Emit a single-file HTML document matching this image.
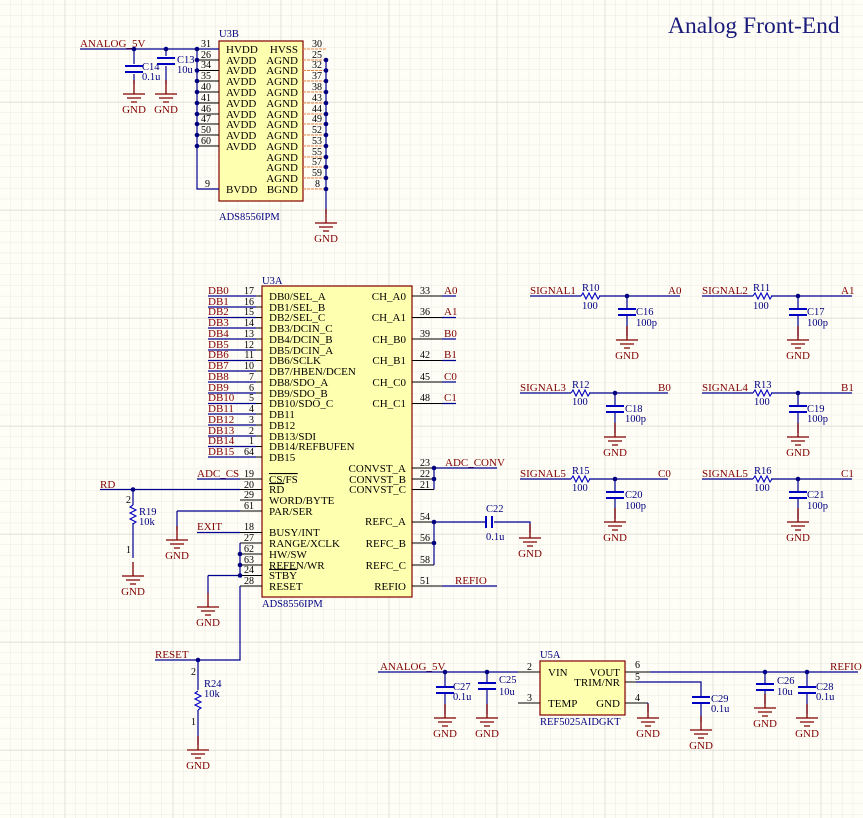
<!DOCTYPE html>
<html><head><meta charset="utf-8"><style>
html,body{margin:0;padding:0;background:#fffef6}
svg{display:block;font-family:"Liberation Serif",serif}
.w{stroke:#000090;stroke-width:1.2;fill:none}
.k{stroke:#000;stroke-width:1;fill:none}
.r{fill:#800000;font-size:11px}
.b{fill:#000080;font-size:10.5px}
.t{fill:#000;font-size:11px}
.n{fill:#000;font-size:10px}
.g{stroke:#800000;stroke-width:1.3;fill:none}
</style></head><body>
<svg width="863" height="818" viewBox="0 0 863 818" xmlns="http://www.w3.org/2000/svg">
<defs>
<pattern id="fg" x="0" y="102" width="10.8" height="10.8" patternUnits="userSpaceOnUse"><path d="M10.8 0V10.8H0" stroke="#ebebe3" stroke-width="1" fill="none"/></pattern>
<pattern id="mg" x="64.8" y="102" width="108" height="108" patternUnits="userSpaceOnUse"><path d="M0 0V108M0 0H108" stroke="#d6d6ce" stroke-width="1" fill="none"/></pattern>
<symbol id="gnd" overflow="visible"><path d="M0 -14V0M-11 0h22M-7 4h14M-3 8h6" stroke="#800000" stroke-width="1.3" fill="none"/><text x="0" y="19" text-anchor="middle" class="r">GND</text></symbol>
<symbol id="cap" overflow="visible"><path d="M-9 -3h18M-9 3h18" stroke="#0000c0" stroke-width="2"/></symbol>
<symbol id="res" overflow="visible"><path d="M-9 0l2 -3l3 6l3 -6l3 6l3 -6l3 6l2 -3" stroke="#0000c0" stroke-width="1.1" fill="none"/></symbol>
<symbol id="vres" overflow="visible"><path d="M0 -9l-3 2l6 3l-6 3l6 3l-6 3l6 3l-3 2" stroke="#0000c0" stroke-width="1.1" fill="none"/></symbol>
</defs>
<rect width="863" height="818" fill="#fffef6"/>
<rect width="863" height="818" fill="url(#fg)"/>
<rect width="863" height="818" fill="url(#mg)"/>

<text x="668" y="33" font-size="23.5" fill="#1a1a7a">Analog Front-End</text>

<!-- U3B -->
<rect x="219" y="41" width="84" height="160" fill="#ffffb0" stroke="#800000" stroke-width="1.2"/>
<text x="219" y="37" class="b">U3B</text>
<text x="219" y="220" class="b">ADS8556IPM</text>
<path class="w" d="M80 49H219M197 49V189H219"/>
<path class="k" d="M197 60H219M197 70.5H219M197 81H219M197 92H219M197 103H219M197 114H219M197 124H219M197 135H219M197 146H219"/>
<g fill="#000080"><circle cx="197" cy="49" r="2.3"/><circle cx="197" cy="60" r="2.3"/><circle cx="197" cy="70.5" r="2.3"/><circle cx="197" cy="81" r="2.3"/><circle cx="197" cy="92" r="2.3"/><circle cx="197" cy="103" r="2.3"/><circle cx="197" cy="114" r="2.3"/><circle cx="197" cy="124" r="2.3"/><circle cx="197" cy="135" r="2.3"/><circle cx="197" cy="146" r="2.3"/><circle cx="134" cy="49" r="2.3"/><circle cx="166" cy="49" r="2.3"/></g>
<g class="n"><text x="201" y="47">31</text><text x="201" y="58">26</text><text x="201" y="68">34</text><text x="201" y="79">35</text><text x="201" y="90">40</text><text x="201" y="101">41</text><text x="201" y="112">46</text><text x="201" y="122">47</text><text x="201" y="133">50</text><text x="201" y="144">60</text><text x="205" y="187">9</text></g>
<g class="t"><text x="226" y="53">HVDD</text><text x="226" y="64">AVDD</text><text x="226" y="74">AVDD</text><text x="226" y="85">AVDD</text><text x="226" y="96">AVDD</text><text x="226" y="107">AVDD</text><text x="226" y="118">AVDD</text><text x="226" y="128">AVDD</text><text x="226" y="139">AVDD</text><text x="226" y="150">AVDD</text><text x="226" y="193">BVDD</text></g>
<g class="t" text-anchor="end"><text x="298" y="53">HVSS</text><text x="298" y="64">AGND</text><text x="298" y="74">AGND</text><text x="298" y="85">AGND</text><text x="298" y="96">AGND</text><text x="298" y="107">AGND</text><text x="298" y="118">AGND</text><text x="298" y="128">AGND</text><text x="298" y="139">AGND</text><text x="298" y="150">AGND</text><text x="298" y="161">AGND</text><text x="298" y="171">AGND</text><text x="298" y="182">AGND</text><text x="298" y="193">BGND</text></g>
<path d="M303 49H326M303 60H326M303 70.5H326M303 81H326M303 92H326M303 103H326M303 114H326M303 124H326M303 135H326M303 146H326M303 157H326M303 167H326M303 178H326M303 189H326" stroke="#f08040" stroke-width="1" stroke-dasharray="3 1"/>
<path class="w" d="M326 60V214"/>
<g fill="#000080"><circle cx="326" cy="60" r="2.3"/><circle cx="326" cy="70.5" r="2.3"/><circle cx="326" cy="81" r="2.3"/><circle cx="326" cy="92" r="2.3"/><circle cx="326" cy="103" r="2.3"/><circle cx="326" cy="114" r="2.3"/><circle cx="326" cy="124" r="2.3"/><circle cx="326" cy="135" r="2.3"/><circle cx="326" cy="146" r="2.3"/><circle cx="326" cy="157" r="2.3"/><circle cx="326" cy="167" r="2.3"/><circle cx="326" cy="178" r="2.3"/><circle cx="326" cy="189" r="2.3"/></g>
<g class="n"><text x="312" y="47">30</text><text x="312" y="58">25</text><text x="312" y="68">32</text><text x="312" y="79">37</text><text x="312" y="90">38</text><text x="312" y="101">43</text><text x="312" y="112">44</text><text x="312" y="122">49</text><text x="312" y="133">52</text><text x="312" y="144">53</text><text x="312" y="155">55</text><text x="312" y="165">57</text><text x="312" y="176">59</text><text x="315" y="187">8</text></g>
<use href="#gnd" x="326" y="223"/>
<text x="80" y="47" class="r">ANALOG_5V</text>
<path class="w" d="M134 49V64M134 74V84M166 49V56M166 66V84"/>
<use href="#cap" x="134" y="69"/><use href="#cap" x="166" y="61"/>
<text x="142" y="70" class="b">C14</text><text x="142" y="80" class="b">0.1u</text>
<text x="177" y="63" class="b">C13</text><text x="177" y="73" class="b">10u</text>
<use href="#gnd" x="134" y="94"/><use href="#gnd" x="166" y="94"/>

<!-- U3A -->
<rect x="262" y="286" width="150" height="311" fill="#ffffb0" stroke="#800000" stroke-width="1.2"/>
<text x="262" y="284" class="b">U3A</text>
<text x="262" y="607" class="b">ADS8556IPM</text>
<path class="w" d="M208 296H256M208 307H256M208 317.5H256M208 328H256M208 339H256M208 350H256M208 360.5H256M208 371H256M208 382H256M208 393H256M208 403.5H256M208 414H256M208 425H256M208 436H256M208 446.5H256M208 457H256"/>
<g class="r"><text x="208" y="294">DB0</text><text x="208" y="305">DB1</text><text x="208" y="315">DB2</text><text x="208" y="326">DB3</text><text x="208" y="337">DB4</text><text x="208" y="348">DB5</text><text x="208" y="358">DB6</text><text x="208" y="369">DB7</text><text x="208" y="380">DB8</text><text x="208" y="391">DB9</text><text x="208" y="401">DB10</text><text x="208" y="412">DB11</text><text x="208" y="423">DB12</text><text x="208" y="434">DB13</text><text x="208" y="444">DB14</text><text x="208" y="455">DB15</text></g>
<g class="n" text-anchor="end"><text x="254" y="294">17</text><text x="254" y="305">16</text><text x="254" y="315">15</text><text x="254" y="326">14</text><text x="254" y="337">13</text><text x="254" y="348">12</text><text x="254" y="358">11</text><text x="254" y="369">10</text><text x="254" y="380">7</text><text x="254" y="391">6</text><text x="254" y="401">5</text><text x="254" y="412">4</text><text x="254" y="423">3</text><text x="254" y="434">2</text><text x="254" y="444">1</text><text x="254" y="455">64</text>
<text x="254" y="477">19</text><text x="254" y="488">20</text><text x="254" y="498">29</text><text x="254" y="509">61</text><text x="254" y="530">18</text><text x="254" y="541">27</text><text x="254" y="552">62</text><text x="254" y="563">63</text><text x="254" y="573">24</text><text x="254" y="584">28</text></g>
<g class="t"><text x="269" y="300">DB0/SEL_A</text><text x="269" y="311">DB1/SEL_B</text><text x="269" y="321">DB2/SEL_C</text><text x="269" y="332">DB3/DCIN_C</text><text x="269" y="343">DB4/DCIN_B</text><text x="269" y="354">DB5/DCIN_A</text><text x="269" y="364">DB6/SCLK</text><text x="269" y="375">DB7/HBEN/DCEN</text><text x="269" y="386">DB8/SDO_A</text><text x="269" y="397">DB9/SDO_B</text><text x="269" y="407">DB10/SDO_C</text><text x="269" y="418">DB11</text><text x="269" y="429">DB12</text><text x="269" y="440">DB13/SDI</text><text x="269" y="450">DB14/REFBUFEN</text><text x="269" y="461">DB15</text>
<text x="269" y="483" text-decoration="overline">CS/FS</text><text x="269" y="493" text-decoration="overline">RD</text><text x="269" y="504">WORD/BYTE</text><text x="269" y="515">PAR/SER</text><text x="269" y="536">BUSY/INT</text><text x="269" y="547">RANGE/XCLK</text><text x="269" y="558">HW/SW</text><text x="269" y="569">REFEN/WR</text><text x="269" y="579" text-decoration="overline">STBY</text><text x="269" y="590">RESET</text></g>
<g class="t" text-anchor="end"><text x="406" y="300">CH_A0</text><text x="406" y="321">CH_A1</text><text x="406" y="343">CH_B0</text><text x="406" y="364">CH_B1</text><text x="406" y="386">CH_C0</text><text x="406" y="407">CH_C1</text><text x="406" y="472">CONVST_A</text><text x="406" y="483">CONVST_B</text><text x="406" y="493">CONVST_C</text><text x="406" y="525">REFC_A</text><text x="406" y="547">REFC_B</text><text x="406" y="569">REFC_C</text><text x="406" y="590">REFIO</text></g>
<path class="k" d="M256 296h6M256 307h6M256 317.5h6M256 328h6M256 339h6M256 350h6M256 360.5h6M256 371h6M256 382h6M256 393h6M256 403.5h6M256 414h6M256 425h6M256 436h6M256 446.5h6M256 457h6M240 479h22M240 489.5h22M240 500h22M240 511h22M240 532.5h22M240 543h22M240 554h22M240 565h22M240 575.5h22M240 586h22"/>
<path class="k" d="M412 296h30M412 317.5h30M412 339h30M412 360.5h30M412 382h30M412 403.5h30M412 468h22M412 479h22M412 489.5h22M412 522h22M412 543h22M412 565h22M412 586h30"/>
<g class="n"><text x="420" y="294">33</text><text x="420" y="315">36</text><text x="420" y="337">39</text><text x="420" y="358">42</text><text x="420" y="380">45</text><text x="420" y="401">48</text><text x="420" y="466">23</text><text x="420" y="477">22</text><text x="420" y="488">21</text><text x="420" y="520">54</text><text x="420" y="541">56</text><text x="420" y="563">58</text><text x="420" y="584">51</text></g>
<path class="w" d="M442 296h14M442 317.5h14M442 339h14M442 360.5h14M442 382h14M442 403.5h14"/>
<g class="r"><text x="444" y="294">A0</text><text x="444" y="315">A1</text><text x="444" y="337">B0</text><text x="444" y="358">B1</text><text x="444" y="380">C0</text><text x="444" y="401">C1</text><text x="445" y="466">ADC_CONV</text><text x="455" y="584">REFIO</text></g>
<path class="w" d="M434 468V489.5M434 468H497M434 522V565M434 522H486M494 522H530V533M442 586H497"/>
<path d="M486 516v12M492 516v12" stroke="#0000c0" stroke-width="2"/>
<text x="486" y="512" class="b">C22</text><text x="486" y="540" class="b">0.1u</text>
<use href="#gnd" x="530" y="538"/>
<g fill="#000080"><circle cx="434" cy="468" r="2.3"/><circle cx="434" cy="479" r="2.3"/><circle cx="434" cy="522" r="2.3"/><circle cx="434" cy="543" r="2.3"/></g>

<text x="197" y="477" class="r">ADC_CS</text>
<path class="w" d="M197 479H240"/>
<text x="100" y="488" class="r">RD</text>
<path class="w" d="M100 489.5H240M133 489.5V505M133 523V558"/>
<circle cx="133" cy="489.5" r="2.3" fill="#000080"/>
<use href="#vres" x="133" y="514"/>
<text x="139" y="515" class="b">R19</text><text x="139" y="525" class="b">10k</text>
<text x="126" y="503" class="n" font-size="8">2</text><text x="126" y="553" class="n" font-size="8">1</text>
<use href="#gnd" x="133" y="576"/>
<path class="w" d="M177 511H240M177 511V530"/>
<use href="#gnd" x="177" y="540"/>
<text x="197" y="530" class="r">EXIT</text>
<path class="w" d="M197 532.5H240"/>
<path class="w" d="M240 543V575.5M208 575.5H240M208 575.5V594M240 586V660H198"/>
<use href="#gnd" x="208" y="607"/>
<g fill="#000080"><circle cx="240" cy="554" r="2.3"/><circle cx="240" cy="565" r="2.3"/><circle cx="240" cy="575.5" r="2.3"/><circle cx="198" cy="660" r="2.3"/></g>
<text x="155" y="658" class="r">RESET</text>
<path class="w" d="M155 660H198M198 660V690M198 710V745"/>
<use href="#vres" x="198" y="700"/>
<text x="204" y="687" class="b">R24</text><text x="204" y="697" class="b">10k</text>
<text x="191" y="675" class="n" font-size="8">2</text><text x="191" y="725" class="n" font-size="8">1</text>
<use href="#gnd" x="198" y="750"/>

<g>
<text x="530" y="294" class="r">SIGNAL1</text><path class="w" d="M530 296H581M599 296H680M627 296V308M627 316V336"/><use href="#res" x="590" y="296"/>
<text x="582" y="291" class="b">R10</text><text x="582" y="309" class="b">100</text><use href="#cap" x="627" y="312"/><text x="636" y="315" class="b">C16</text><text x="636" y="326" class="b">100p</text><circle cx="627" cy="296" r="2.3" fill="#000080"/><use href="#gnd" x="627" y="340"/><text x="668" y="294" class="r">A0</text>
<text x="702" y="294" class="r">SIGNAL2</text><path class="w" d="M702 296H753M771 296H852M798 296V308M798 316V336"/><use href="#res" x="762" y="296"/>
<text x="753" y="291" class="b">R11</text><text x="753" y="309" class="b">100</text><use href="#cap" x="798" y="312"/><text x="807" y="315" class="b">C17</text><text x="807" y="326" class="b">100p</text><circle cx="798" cy="296" r="2.3" fill="#000080"/><use href="#gnd" x="798" y="340"/><text x="841" y="294" class="r">A1</text>
<text x="520" y="391" class="r">SIGNAL3</text><path class="w" d="M520 393H571M589 393H668M615 393V405M615 413V433"/><use href="#res" x="580" y="393"/>
<text x="572" y="388" class="b">R12</text><text x="572" y="405" class="b">100</text><use href="#cap" x="615" y="409"/><text x="625" y="412" class="b">C18</text><text x="625" y="422" class="b">100p</text><circle cx="615" cy="393" r="2.3" fill="#000080"/><use href="#gnd" x="615" y="437"/><text x="658" y="391" class="r">B0</text>
<text x="702" y="391" class="r">SIGNAL4</text><path class="w" d="M702 393H753M771 393H852M798 393V405M798 413V433"/><use href="#res" x="762" y="393"/>
<text x="754" y="388" class="b">R13</text><text x="754" y="405" class="b">100</text><use href="#cap" x="798" y="409"/><text x="807" y="412" class="b">C19</text><text x="807" y="422" class="b">100p</text><circle cx="798" cy="393" r="2.3" fill="#000080"/><use href="#gnd" x="798" y="437"/><text x="841" y="391" class="r">B1</text>
<text x="520" y="477" class="r">SIGNAL5</text><path class="w" d="M520 479H571M589 479H668M615 479V491M615 499V519"/><use href="#res" x="580" y="479"/>
<text x="572" y="474" class="b">R15</text><text x="572" y="491" class="b">100</text><use href="#cap" x="615" y="495"/><text x="625" y="498" class="b">C20</text><text x="625" y="509" class="b">100p</text><circle cx="615" cy="479" r="2.3" fill="#000080"/><use href="#gnd" x="615" y="522"/><text x="658" y="477" class="r">C0</text>
<text x="702" y="477" class="r">SIGNAL5</text><path class="w" d="M702 479H753M771 479H852M798 479V491M798 499V519"/><use href="#res" x="762" y="479"/>
<text x="754" y="474" class="b">R16</text><text x="754" y="491" class="b">100</text><use href="#cap" x="798" y="495"/><text x="807" y="498" class="b">C21</text><text x="807" y="509" class="b">100p</text><circle cx="798" cy="479" r="2.3" fill="#000080"/><use href="#gnd" x="798" y="522"/><text x="841" y="477" class="r">C1</text>
</g>

<text x="380" y="670" class="r">ANALOG_5V</text>
<path class="w" d="M378 672H518M445 672V686M445 694V714M487 672V682M487 690V714"/>
<use href="#cap" x="445" y="690"/><use href="#cap" x="487" y="686"/>
<text x="453" y="690" class="b">C27</text><text x="453" y="700" class="b">0.1u</text>
<text x="499" y="683" class="b">C25</text><text x="499" y="695" class="b">10u</text>
<g fill="#000080"><circle cx="445" cy="672" r="2.3"/><circle cx="487" cy="672" r="2.3"/><circle cx="765" cy="672" r="2.3"/><circle cx="807" cy="672" r="2.3"/></g>
<use href="#gnd" x="445" y="718"/><use href="#gnd" x="487" y="718"/>
<path class="k" d="M518 672H540M518 703H540M625 672H650M625 682H636M625 703H648"/>
<text x="527" y="670" class="n">2</text><text x="527" y="701" class="n">3</text><text x="635" y="668" class="n">6</text><text x="635" y="680" class="n">5</text><text x="635" y="701" class="n">4</text>
<rect x="540" y="661" width="85" height="54" fill="#ffffb0" stroke="#800000" stroke-width="1.2"/>
<text x="540" y="658" class="b">U5A</text><text x="540" y="725" class="b">REF5025AIDGKT</text>
<g class="t"><text x="548" y="676">VIN</text><text x="548" y="707">TEMP</text></g>
<g class="t" text-anchor="end"><text x="620" y="676">VOUT</text><text x="620" y="686">TRIM/NR</text><text x="620" y="707">GND</text></g>
<path class="w" d="M650 672H858M636 682H701V696M701 704V722M648 703V712M765 672V683M765 691V704M807 672V686M807 694V714"/>
<use href="#cap" x="701" y="700"/><use href="#cap" x="765" y="687"/><use href="#cap" x="807" y="690"/>
<text x="711" y="702" class="b">C29</text><text x="711" y="712" class="b">0.1u</text>
<text x="777" y="684" class="b">C26</text><text x="777" y="695" class="b">10u</text>
<text x="816" y="690" class="b">C28</text><text x="816" y="700" class="b">0.1u</text>
<text x="830" y="670" class="r">REFIO</text>
<use href="#gnd" x="648" y="718"/><use href="#gnd" x="701" y="730"/><use href="#gnd" x="765" y="708"/><use href="#gnd" x="807" y="718"/>
</svg>
</body></html>
